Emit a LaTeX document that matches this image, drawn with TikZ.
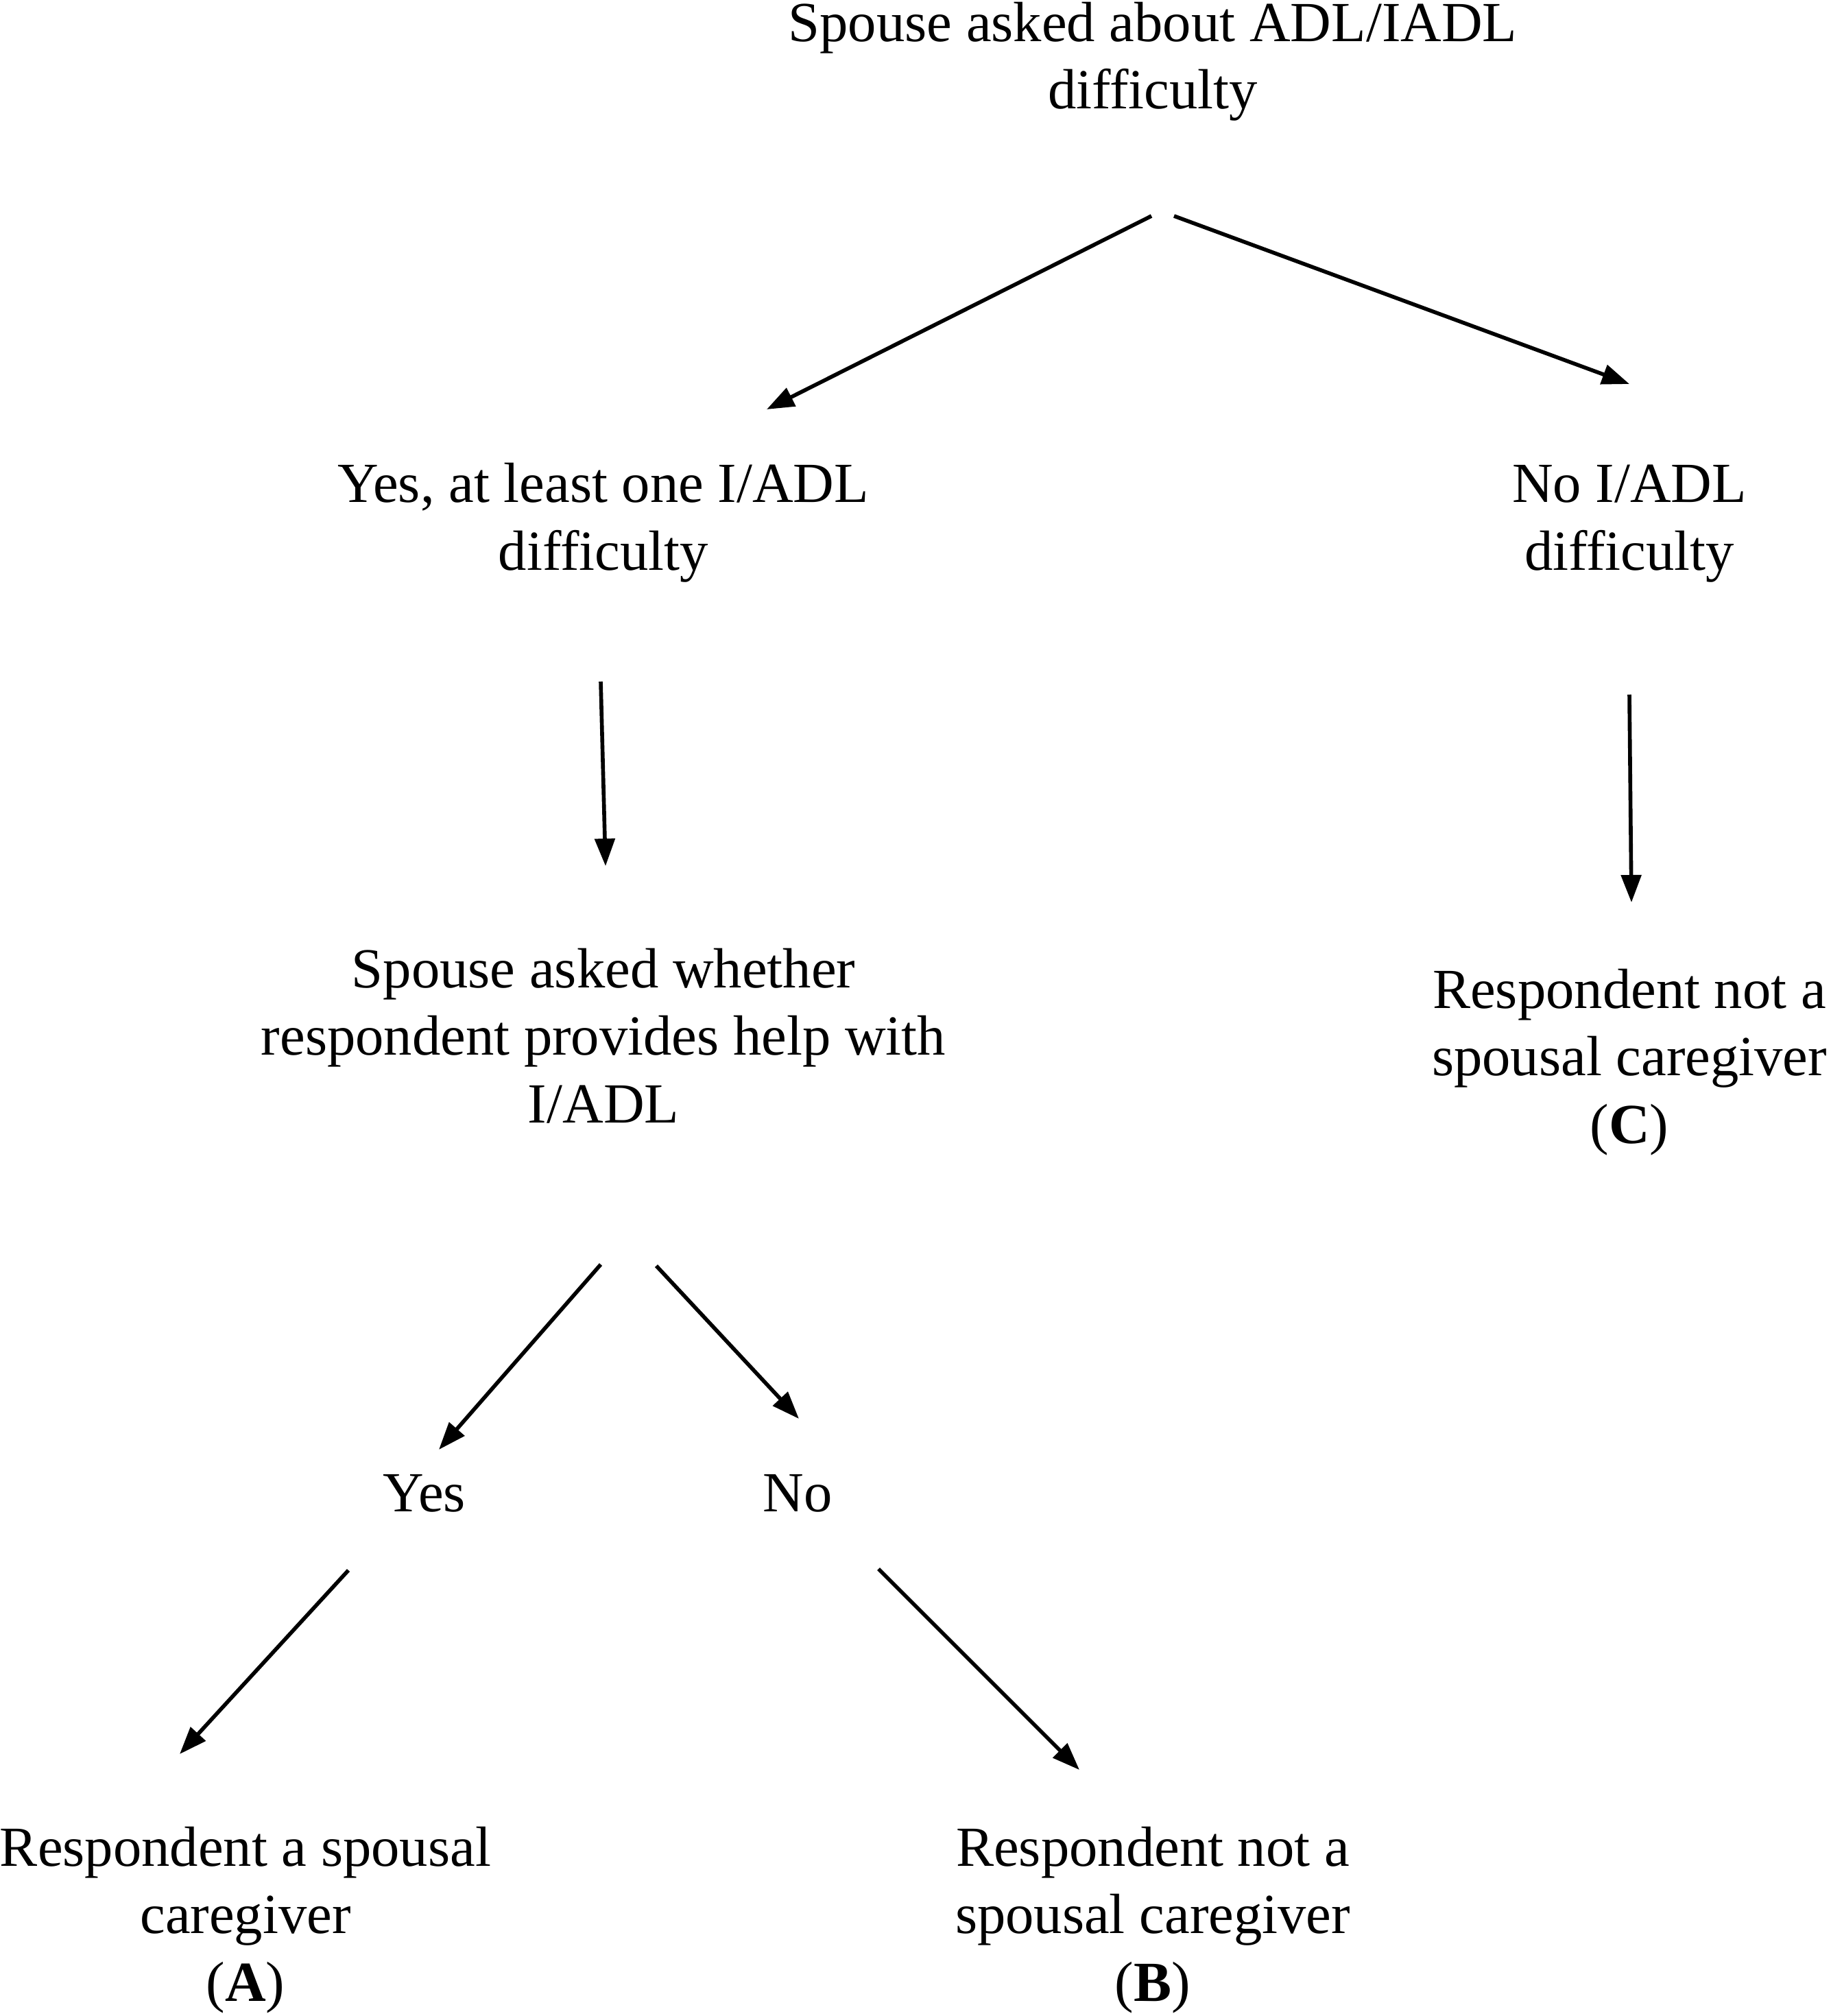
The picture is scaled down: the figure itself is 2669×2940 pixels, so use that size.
\documentclass[tikz,border=0pt]{standalone}
\usepackage{fontspec}
\setmainfont{Liberation Serif}
\usepackage{tikz}
\usetikzlibrary{arrows.meta}

\begin{document}
\begin{tikzpicture}[
        x=0.01cm, y=-0.01cm,
        txt/.style={align=center, inner sep=0pt, anchor=base, font=\fontsize{23.5}{28}\selectfont},
        arr/.style={-{Triangle[length=0.4cm, width=0.29cm]}, line width=1.6pt}
    ]
        \useasboundingbox (0,0) rectangle (2669,2940);

        % Text nodes (placed by last baseline)
        \node[txt] (top) at (1681, 159) {Spouse asked about ADL/IADL\\difficulty};
        \node[txt] (yesdiff) at (880, 831) {Yes, at least one I/ADL\\difficulty};
        \node[txt] (nodiff) at (2376, 831) {No I/ADL\\difficulty};
        \node[txt] (help) at (880, 1637) {Spouse asked whether\\respondent provides help with\\I/ADL};
        \node[txt] (outC) at (2376, 1667) {Respondent not a\\spousal caregiver\\(\textbf{C})};
        \node[txt] (yes) at (619, 2204) {Yes};
        \node[txt] (no) at (1163, 2204) {No};
        \node[txt] (outA) at (358, 2918) {Respondent a spousal\\caregiver\\(\textbf{A})};
        \node[txt] (outB) at (1681, 2918) {Respondent not a\\spousal caregiver\\(\textbf{B})};

        % Arrow ends
        \coordinate (a1) at (1679, 315);  \coordinate (b1) at (1118, 597);
        \coordinate (a2) at (1712, 315);  \coordinate (b2) at (2376, 560);
        \coordinate (a3) at (876, 994);   \coordinate (b3) at (883, 1263);
        \coordinate (a4) at (2376, 1013); \coordinate (b4) at (2379, 1316);
        \coordinate (a5) at (876, 1844);  \coordinate (b5) at (640, 2114);
        \coordinate (a6) at (957, 1846);  \coordinate (b6) at (1165, 2069);
        \coordinate (a7) at (508, 2290);  \coordinate (b7) at (262, 2558);
        \coordinate (a8) at (1281, 2288); \coordinate (b8) at (1574, 2581);

        \foreach \i in {1,...,8}
            \draw[arr] (a\i) -- (b\i);
    \end{tikzpicture}
\end{document}
